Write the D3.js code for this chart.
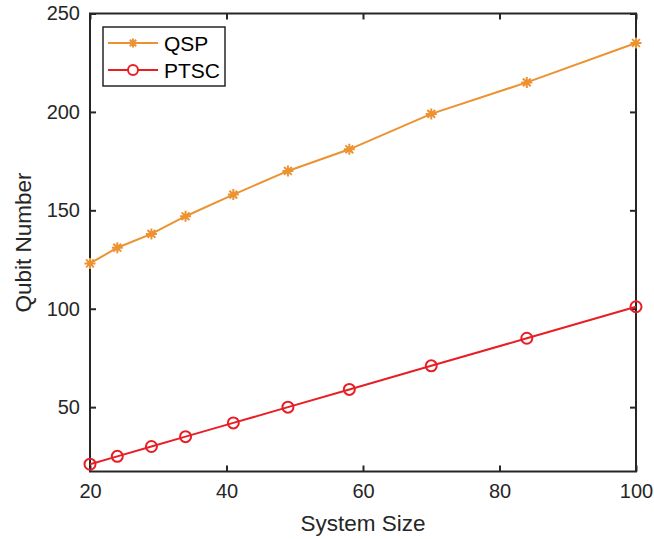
<!DOCTYPE html>
<html>
<head>
<meta charset="utf-8">
<script src="https://cdn.jsdelivr.net/npm/d3@7"></script>
<style>
  html, body { margin: 0; padding: 0; background: #fff; }
  text { font-family: "Liberation Sans", Arial, Helvetica, sans-serif; fill: #262626; }
</style>
</head>
<body>
<div id="chart-wrap"></div>
<script>
const systemSize = [20, 24, 29, 34, 41, 49, 58, 70, 84, 100];
const qspValues = [123, 131, 138, 147, 158, 170, 181, 199, 215, 235];
const ptscValues = [21, 25, 30, 35, 42, 50, 59, 71, 85, 101];
const xTicks = [20, 40, 60, 80, 100];
const yTicks = [50, 100, 150, 200, 250];
const seriesNames = ['QSP', 'PTSC'];

const width = 654;
const height = 539;
const margin = { top: 13.5, right: 18, bottom: 67.5, left: 90 };
const axisColor = '#262626';
const colors = { QSP: '#EC9231', PTSC: '#E81E25' };

const svg = d3.select('#chart-wrap').append('svg')
  .attr('width', width)
  .attr('height', height);

const x = d3.scaleLinear()
  .domain([20, 100])
  .range([margin.left, width - margin.right]);

const y = d3.scaleLinear()
  .domain([17.3, 250])
  .range([height - margin.bottom, margin.top]);

const x0 = x.range()[0], x1 = x.range()[1];
const y0 = y.range()[0], y1 = y.range()[1];

// axes with inward ticks, mirrored on top/right
const tickLen = 6;
const axisG = svg.append('g');

axisG.append('g')
  .attr('transform', `translate(0,${y0})`)
  .call(d3.axisBottom(x).tickValues(xTicks).tickSize(-tickLen).tickPadding(12).tickFormat(d3.format('d')))
  .call(g => g.select('.domain').remove())
  .call(g => g.selectAll('line').attr('stroke', axisColor).attr('stroke-width', 2))
  .call(g => g.selectAll('text').attr('font-size', 20).style('fill', axisColor));

axisG.append('g')
  .attr('transform', `translate(0,${y1})`)
  .call(d3.axisTop(x).tickValues(xTicks).tickSize(-tickLen).tickFormat(''))
  .call(g => g.select('.domain').remove())
  .call(g => g.selectAll('line').attr('stroke', axisColor).attr('stroke-width', 2));

axisG.append('g')
  .attr('transform', `translate(${x0},0)`)
  .call(d3.axisLeft(y).tickValues(yTicks).tickSize(-tickLen).tickPadding(10).tickFormat(d3.format('d')))
  .call(g => g.select('.domain').remove())
  .call(g => g.selectAll('line').attr('stroke', axisColor).attr('stroke-width', 2))
  .call(g => g.selectAll('text').attr('font-size', 20).style('fill', axisColor));

axisG.append('g')
  .attr('transform', `translate(${x1},0)`)
  .call(d3.axisRight(y).tickValues(yTicks).tickSize(-tickLen).tickFormat(''))
  .call(g => g.select('.domain').remove())
  .call(g => g.selectAll('line').attr('stroke', axisColor).attr('stroke-width', 2));

// box
svg.append('rect')
  .attr('x', x0)
  .attr('y', y1)
  .attr('width', x1 - x0)
  .attr('height', y0 - y1)
  .attr('fill', 'none')
  .attr('stroke', axisColor)
  .attr('stroke-width', 2);

// axis labels
svg.append('text')
  .attr('x', (x0 + x1) / 2)
  .attr('y', 531)
  .attr('text-anchor', 'middle')
  .attr('font-size', 22.5)
  .text('System Size');

svg.append('text')
  .attr('transform', `translate(31,${(y0 + y1) / 2}) rotate(-90)`)
  .attr('text-anchor', 'middle')
  .attr('font-size', 22.5)
  .text('Qubit Number');

// marker shapes
const asteriskPath = (r) => {
  const d = r * Math.SQRT1_2;
  return `M${-r},0L${r},0M0,${-r}L0,${r}M${-d},${-d}L${d},${d}M${-d},${d}L${d},${-d}`;
};

const line = d3.line()
  .x(d => x(d[0]))
  .y(d => y(d[1]));

const series = [
  { name: 'QSP', values: qspValues },
  { name: 'PTSC', values: ptscValues }
];

series.forEach(s => {
  const pts = systemSize.map((v, i) => [v, s.values[i]]);
  const g = svg.append('g');
  g.append('path')
    .datum(pts)
    .attr('d', line)
    .attr('fill', 'none')
    .attr('stroke', colors[s.name])
    .attr('stroke-width', 2);

  if (s.name === 'QSP') {
    g.selectAll('.m')
      .data(pts)
      .enter()
      .append('path')
      .attr('transform', d => `translate(${x(d[0])},${y(d[1])})`)
      .attr('d', asteriskPath(5.5))
      .attr('stroke', colors[s.name])
      .attr('stroke-width', 2)
      .attr('fill', 'none');
  } else {
    g.selectAll('.m')
      .data(pts)
      .enter()
      .append('circle')
      .attr('cx', d => x(d[0]))
      .attr('cy', d => y(d[1]))
      .attr('r', 5.5)
      .attr('stroke', colors[s.name])
      .attr('stroke-width', 2)
      .attr('fill', 'none');
  }
});

// legend
const legend = svg.append('g').attr('transform', 'translate(103,27)');
legend.append('rect')
  .attr('width', 122)
  .attr('height', 59)
  .attr('fill', '#fff')
  .attr('stroke', axisColor)
  .attr('stroke-width', 1.5);

seriesNames.forEach((name, i) => {
  const ly = 16 + i * 27;
  const row = legend.append('g').attr('transform', `translate(0,${ly})`);
  row.append('line')
    .attr('x1', 5).attr('x2', 55)
    .attr('y1', 0).attr('y2', 0)
    .attr('stroke', colors[name])
    .attr('stroke-width', 2);
  if (name === 'QSP') {
    row.append('path')
      .attr('transform', 'translate(30,0)')
      .attr('d', asteriskPath(4.5))
      .attr('stroke', colors[name])
      .attr('stroke-width', 2);
  } else {
    row.append('circle')
      .attr('cx', 30).attr('cy', 0).attr('r', 5)
      .attr('fill', '#fff')
      .attr('stroke', colors[name])
      .attr('stroke-width', 2);
  }
  row.append('text')
    .attr('x', 61)
    .attr('y', 0)
    .attr('dy', '0.36em')
    .attr('font-size', 21)
    .style('fill', '#000')
    .text(name);
});
</script>
</body>
</html>
